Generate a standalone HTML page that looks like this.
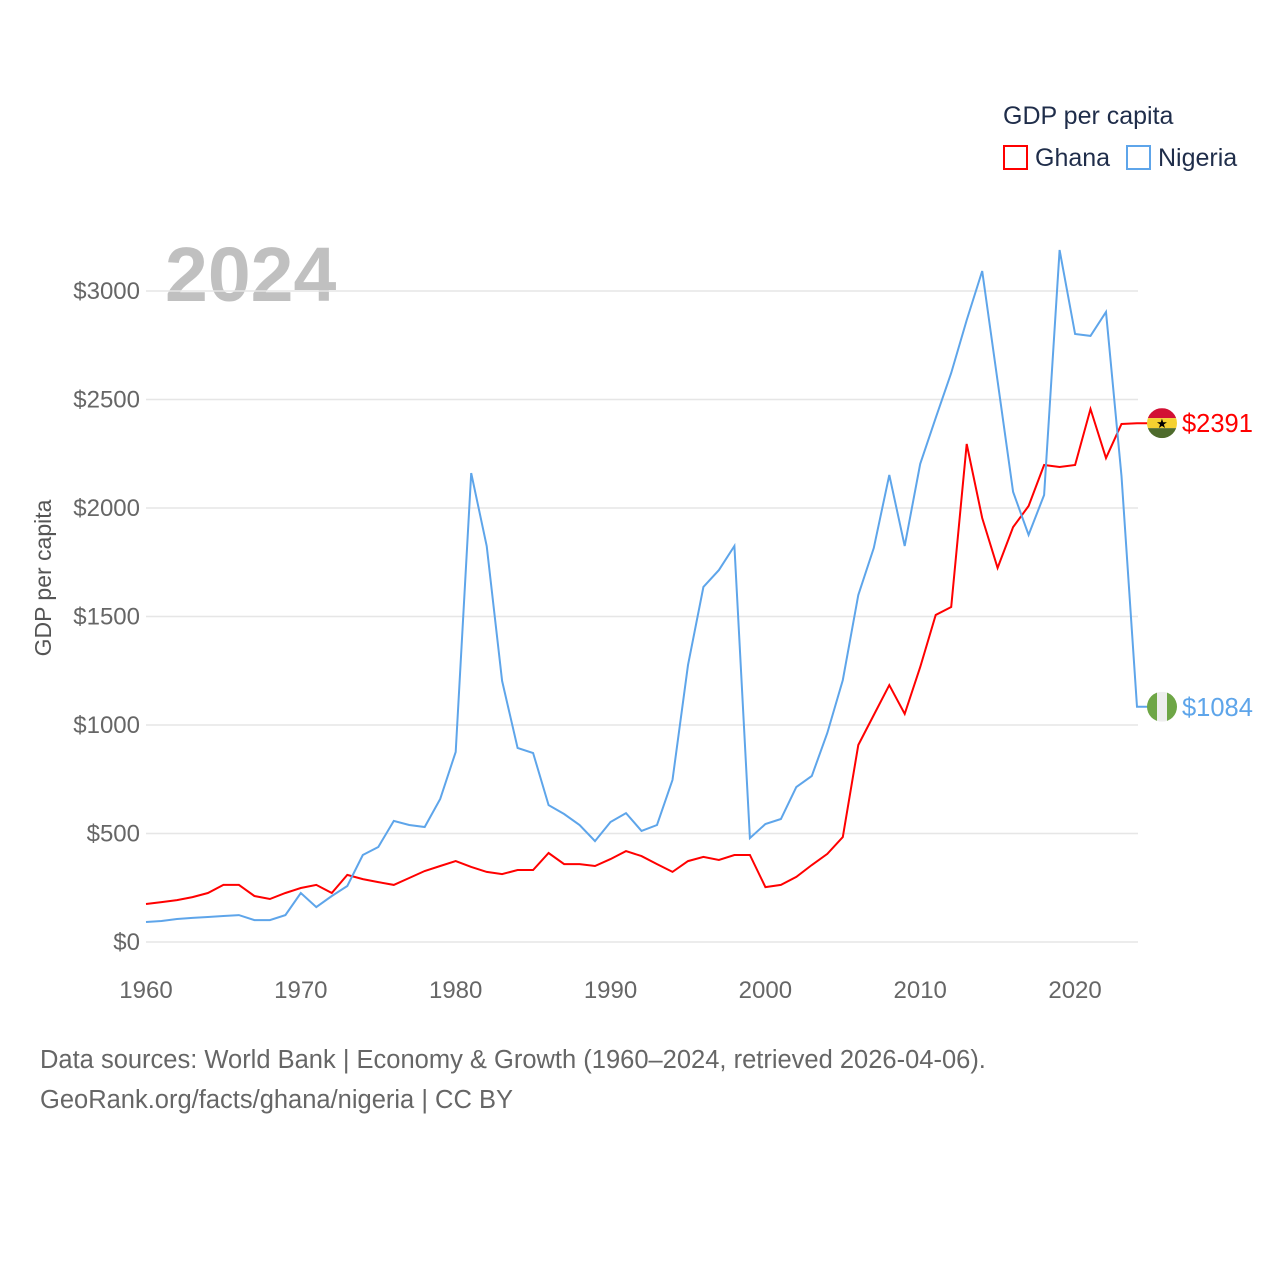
<!DOCTYPE html>
<html><head><meta charset="utf-8"><style>
body{margin:0;background:#fff;font-family:"Liberation Sans",sans-serif;}
</style></head><body>
<svg width="1280" height="1280" id="chart" style="display:block">
<text x="1003" y="124" font-size="25" fill="#1f2d4a">GDP per capita</text>
<rect x="1004" y="146" width="23" height="23" fill="none" stroke="red" stroke-width="2"/>
<text x="1035" y="166" font-size="25" fill="#1f2d4a">Ghana</text>
<rect x="1127" y="146" width="23" height="23" fill="none" stroke="#5ea5ea" stroke-width="2"/>
<text x="1158" y="166" font-size="25" fill="#1f2d4a">Nigeria</text>
<text x="165" y="301" font-size="77" font-weight="bold" fill="#c0c0c0">2024</text>
<text transform="translate(51,578) rotate(-90)" text-anchor="middle" font-size="23" fill="#555">GDP per capita</text>
<g id="grid"></g><g id="lines"></g>
<text x="40" y="1068" font-size="25.5" fill="#666">Data sources: World Bank | Economy &amp; Growth (1960–2024, retrieved 2026-04-06).</text>
<text x="40" y="1108" font-size="25.5" fill="#666">GeoRank.org/facts/ghana/nigeria | CC BY</text>
</svg>
<script>
const years=[];for(let y=1960;y<=2024;y++)years.push(y);
const ghana=[175,184,193,207,226,263,263,212,198,226,249,263,226,309,290,276,263,295,327,350,373,346,323,313,332,332,410,359,359,350,382,419,396,359,323,373,392,378,401,401,253,263,300,355,406,484,908,1046,1184,1051,1267,1507,1544,2295,1954,1724,1912,2009,2198,2189,2198,2456,2230,2387,2391];
const nigeria=[92,97,106,111,115,120,124,101,101,124,226,161,212,258,401,438,558,539,530,659,876,2161,1825,1203,894,871,631,590,539,465,553,594,512,539,747,1276,1636,1714,1825,479,544,567,714,765,963,1207,1599,1816,2152,1825,2203,2415,2622,2866,3092,2585,2074,1876,2060,3189,2802,2793,2903,2147,1084];
const yTicks=[0,500,1000,1500,2000,2500,3000];
const xTicks=[1960,1970,1980,1990,2000,2010,2020];
const NS="http://www.w3.org/2000/svg";
const X=y=>146+(y-1960)*(1137-146)/64;
const Y=v=>942-v*(942-291)/3000;
function mk(tag,attrs,parent){const e=document.createElementNS(NS,tag);for(const k in attrs)e.setAttribute(k,attrs[k]);parent.appendChild(e);return e;}
const grid=document.getElementById('grid'),lines=document.getElementById('lines');
yTicks.forEach(v=>{
 const l=mk('line',{x1:146,x2:1138,y1:Y(v),y2:Y(v),stroke:'#e6e6e6','stroke-width':1.5},grid);
 
 
 const t=mk('text',{x:140,y:Y(v)+8,'text-anchor':'end','font-size':24,fill:'#666'},grid);t.textContent='$'+v;
 
 
});
xTicks.forEach(v=>{
 const t=mk('text',{x:X(v),y:998,'text-anchor':'middle','font-size':24,fill:'#666'},grid);t.textContent=v;
 
 
});
function series(vals,color,name){
 let d=vals.map((v,i)=>(i?'L':'M')+X(years[i]).toFixed(1)+','+Y(v).toFixed(1)).join(' ');
 d+=' L1148,'+Y(vals[vals.length-1]).toFixed(1);
 const p=mk('path',{d:d,fill:'none',stroke:color,'stroke-width':2},lines);
 
 
 const last=vals[vals.length-1];
 const t=mk('text',{x:1182,y:Y(last)+9,'font-size':25.5,fill:color},lines);t.textContent='$'+last;
 
 
 return Y(last);
}
const gy=series(ghana,'#ff0000','ghana');
const ny=series(nigeria,'#5ea5ea','nigeria');
const defs=mk('defs',{},lines);
const c1=mk('clipPath',{id:'cg'},defs);mk('circle',{cx:1162,cy:gy,r:15},c1);
const c2=mk('clipPath',{id:'cn'},defs);mk('circle',{cx:1162,cy:ny,r:15},c2);
const fg=mk('g',{'clip-path':'url(#cg)'},lines);


mk('rect',{x:1147,y:gy-15,width:30,height:10,fill:'#d21034'},fg);
mk('rect',{x:1147,y:gy-5,width:30,height:10,fill:'#f5d130'},fg);
mk('rect',{x:1147,y:gy+5,width:30,height:10,fill:'#4e6b2c'},fg);
const st=mk('text',{x:1162,y:gy+5,'text-anchor':'middle','font-size':13,fill:'#000'},fg);st.textContent='★';
const fn=mk('g',{'clip-path':'url(#cn)'},lines);


mk('rect',{x:1147,y:ny-15,width:10,height:30,fill:'#6ea646'},fn);
mk('rect',{x:1157,y:ny-15,width:10,height:30,fill:'#eeeeee'},fn);
mk('rect',{x:1167,y:ny-15,width:10,height:30,fill:'#6ea646'},fn);
</script>
</body></html>
